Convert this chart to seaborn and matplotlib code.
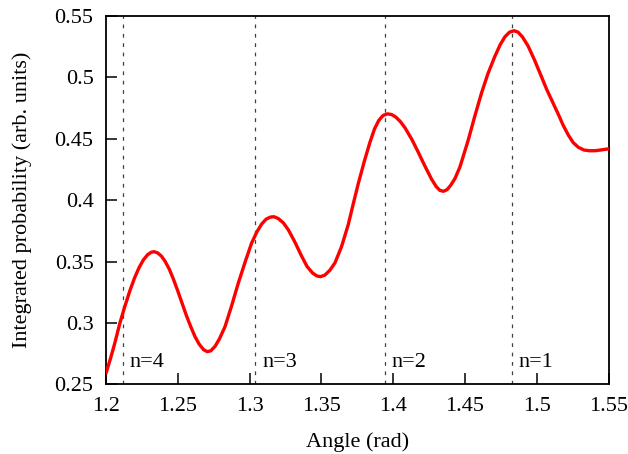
import seaborn as sns
import numpy as np
import pandas as pd
import matplotlib
matplotlib.use("Agg")
import matplotlib.pyplot as plt
import matplotlib.ticker as mtick

# curve
angle = [1.2000, 1.2030, 1.2060, 1.2097, 1.2130, 1.2167, 1.2200, 1.2230, 1.2260,
         1.2290, 1.2315, 1.2335, 1.2360, 1.2385, 1.2410, 1.2440, 1.2470, 1.2500,
         1.2530, 1.2560, 1.2590, 1.2620, 1.2650, 1.2680, 1.2705, 1.2730, 1.2760,
         1.2790, 1.2829, 1.2875, 1.2921, 1.2970, 1.3014, 1.3050, 1.3084, 1.3115,
         1.3145, 1.3170, 1.3200, 1.3235, 1.3270, 1.3315, 1.3362, 1.3400, 1.3440,
         1.3470, 1.3495, 1.3525, 1.3560, 1.3595, 1.3640, 1.3687, 1.3720, 1.3757,
         1.3800, 1.3838, 1.3870, 1.3900, 1.3930, 1.3960, 1.3990, 1.4020, 1.4050,
         1.4082, 1.4130, 1.4175, 1.4220, 1.4268, 1.4300, 1.4325, 1.4350, 1.4375,
         1.4400, 1.4430, 1.4465, 1.4523, 1.4570, 1.4616, 1.4660, 1.4708, 1.4745,
         1.4778, 1.4810, 1.4843, 1.4870, 1.4900, 1.4940, 1.4985, 1.5033, 1.5070,
         1.5110, 1.5150, 1.5184, 1.5220, 1.5253, 1.5290, 1.5330, 1.5370, 1.5410,
         1.5455, 1.5500]
prob = [0.2590, 0.2705, 0.2830, 0.3000, 0.3130, 0.3265, 0.3370, 0.3450, 0.3513,
        0.3556, 0.3576, 0.3580, 0.3570, 0.3545, 0.3505, 0.3440, 0.3355, 0.3260,
        0.3160, 0.3060, 0.2970, 0.2888, 0.2825, 0.2782, 0.2766, 0.2773, 0.2810,
        0.2870, 0.2970, 0.3140, 0.3323, 0.3500, 0.3650, 0.3740, 0.3805, 0.3845,
        0.3862, 0.3865, 0.3850, 0.3815, 0.3758, 0.3660, 0.3545, 0.3460, 0.3405,
        0.3382, 0.3377, 0.3390, 0.3430, 0.3490, 0.3620, 0.3800, 0.3960, 0.4135,
        0.4320, 0.4470, 0.4580, 0.4650, 0.4690, 0.4703, 0.4697, 0.4675, 0.4640,
        0.4590, 0.4495, 0.4390, 0.4280, 0.4170, 0.4110, 0.4080, 0.4072, 0.4085,
        0.4120, 0.4175, 0.4270, 0.4490, 0.4690, 0.4875, 0.5030, 0.5170, 0.5265,
        0.5330, 0.5368, 0.5380, 0.5368, 0.5330, 0.5255, 0.5140, 0.5005, 0.4900,
        0.4800, 0.4700, 0.4610, 0.4530, 0.4470, 0.4430, 0.4408, 0.4402, 0.4403,
        0.4410, 0.4418]

# threshold angles and their labels
n_angles = [1.2116, 1.3038, 1.3940, 1.4827]
n_labels = ["n=4", "n=3", "n=2", "n=1"]

xticks = [1.2, 1.25, 1.3, 1.35, 1.4, 1.45, 1.5, 1.55]
yticks = [0.25, 0.3, 0.35, 0.4, 0.45, 0.5, 0.55]

df = pd.DataFrame({"angle": angle, "prob": prob})

sns.set_theme(style="white")
plt.rcParams['font.family'] = ['Liberation Serif', 'DejaVu Serif']
plt.rcParams['font.size'] = 16
plt.rcParams['text.color'] = 'black'
plt.rcParams['axes.labelcolor'] = 'black'

fig = plt.figure(figsize=(6.28, 4.54), dpi=100)
ax = fig.add_axes([0.1688, 0.1535, 0.8002, 0.8113])

for xv, lab in zip(n_angles, n_labels):
    ax.axvline(xv, color='0.25', lw=0.9, dashes=(3, 4.5), zorder=1)
    ax.annotate(lab, xy=(xv, 0.2645), xytext=(5, 0), textcoords='offset points',
                ha='left', va='baseline', fontsize=16, color='black')

sns.lineplot(data=df, x="angle", y="prob", color='red', lw=2.4, ax=ax, zorder=3)
ax.lines[-1].set_solid_joinstyle('round')

ax.set_xlim(1.2, 1.55)
ax.set_ylim(0.25, 0.55)
ax.set_xticks(xticks)
ax.set_yticks(yticks)
fmt = mtick.FuncFormatter(lambda v, p: "%g" % round(v, 4))
ax.xaxis.set_major_formatter(fmt)
ax.yaxis.set_major_formatter(fmt)
ax.tick_params(axis='both', which='major', direction='in', length=8, width=1.1,
               labelsize=16, colors='black', pad=9)
ax.tick_params(top=False, right=False, bottom=True, left=True)
for s in ax.spines.values():
    s.set_color('black')
    s.set_linewidth(1.3)

ax.set_xlabel("Angle (rad)", fontsize=16, labelpad=12)
ax.set_ylabel("Integrated probability (arb. units)", fontsize=16, labelpad=16)

fig.savefig("out.png", dpi=100)
